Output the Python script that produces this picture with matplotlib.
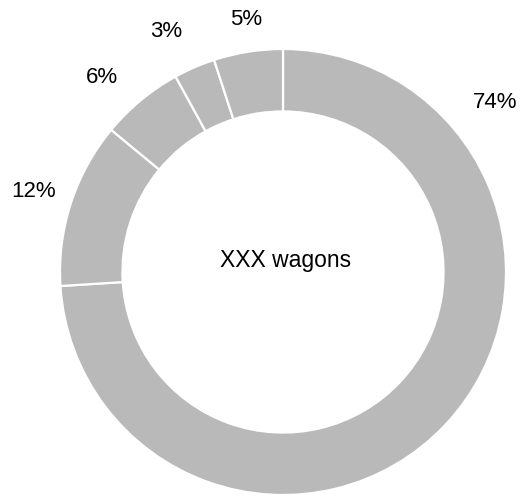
import numpy as np
import matplotlib.pyplot as plt

plt.rcParams['font.family'] = ['Liberation Sans', 'DejaVu Sans']

# share of wagons per group, clockwise from 12 o'clock
shares = [74, 12, 6, 3, 5]
labels = [f"{s}%" for s in shares]
center_text = "XXX wagons"

# where each label goes: polar angle (deg) and distance as a multiple of the radius
label_angles = [38.6, 162, 133, 116, 98.4]
label_dists = [1.22, 1.175, 1.19, 1.20, 1.145]

W, H = 529, 497
cx, cy = 283, H - 272
radius = 223

fig = plt.figure(figsize=(W / 100, H / 100), dpi=100)
ax = fig.add_axes([0, 0, 1, 1])

wedges, _ = ax.pie(
    shares,
    startangle=90,
    counterclock=False,
    center=(cx, cy),
    radius=radius,
    colors=["#b9b9b9"] * len(shares),
    wedgeprops=dict(width=radius * 0.28, edgecolor="white", linewidth=1.6),
)

for lab, ang, d in zip(labels, label_angles, label_dists):
    a = np.deg2rad(ang)
    ax.text(cx + radius * d * np.cos(a), cy + radius * d * np.sin(a), lab,
            ha="center", va="center", fontsize=16, color="black")

ax.text(cx + 3, cy + 5, center_text, ha="center", va="baseline",
        fontsize=16.5, color="black")

ax.set_xlim(0, W)
ax.set_ylim(0, H)
ax.set_aspect("equal")
ax.axis("off")

fig.savefig("out.png", dpi=100)
